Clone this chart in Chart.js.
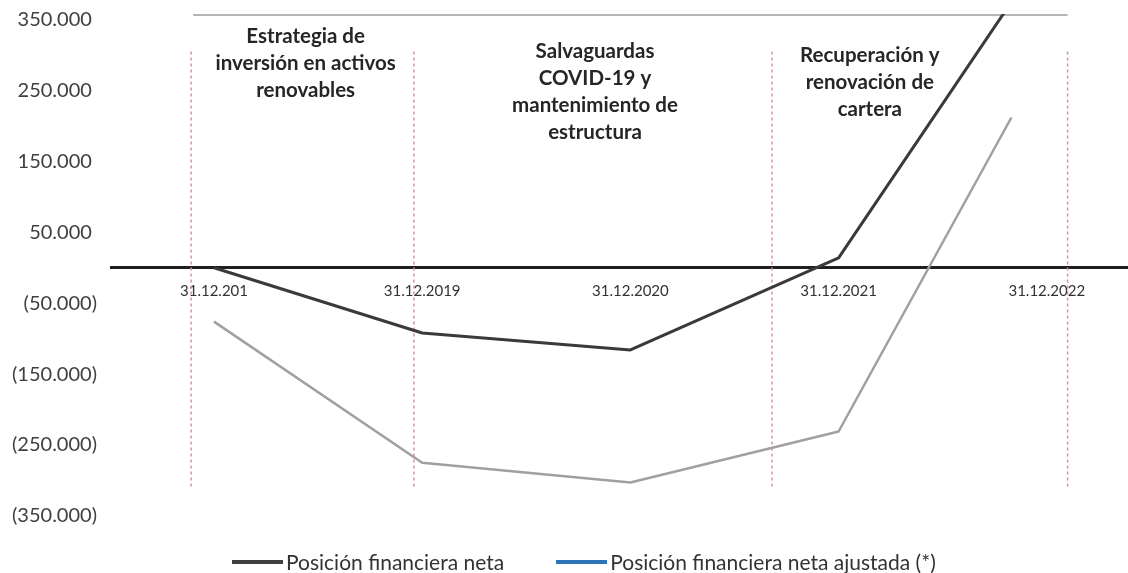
<!DOCTYPE html>
<html lang="es">
<head>
<meta charset="utf-8">
<script src="https://cdn.jsdelivr.net/npm/chart.js@4.4.1/dist/chart.umd.min.js"></script>
<style>
  html, body { margin: 0; padding: 0; background: #fff; }
  #contenedor { position: relative; width: 1128px; height: 573px; }
  #leyenda {
    position: absolute; left: 232px; top: 550px;
    display: flex; gap: 52px;
    font: 21px Lato, sans-serif; color: #333; line-height: 24px;
  }
  .item { display: flex; align-items: center; gap: 3px; }
  .muestra { width: 51px; height: 4px; }
</style>
</head>
<body>
<div id="contenedor">
  <canvas id="grafico"></canvas>
  <div id="leyenda">
    <div class="item"><span class="muestra" style="background:#3f3f3f"></span>Posición financiera neta</div>
    <div class="item"><span class="muestra" style="background:#2e75b6"></span>Posición financiera neta ajustada (*)</div>
  </div>
</div>
<script>
// Datos
const fechas = ['31.12.201', '31.12.2019', '31.12.2020', '31.12.2021', '31.12.2022'];
const posicionX = [0, 1, 2, 3, 3.83];
const posicionNeta = [0, -92000, -116000, 14000, 375000];
const posicionAjustada = [-76000, -275000, -303000, -231000, 212000];
const ticksY = [-350000, -250000, -150000, -50000, 50000, 150000, 250000, 350000];

// Etapas (texto de anotación)
const etapas = [
    ['Estrategia de', 'inversión en activos', 'renovables'],
    ['Salvaguardas', 'COVID-19 y', 'mantenimiento de', 'estructura'],
    ['Recuperación y', 'renovación de', 'cartera']
];
const etapasX = [0.44, 1.83, 3.15];
const etapasY = [326000, 305000, 300000];
const divisores = [-0.11, 0.96, 2.68, 4.1];

function formatoMiles(v) {
    const s = String(Math.abs(v)).replace(/\B(?=(\d{3})+(?!\d))/g, '.');
    return v < 0 ? '(' + s + ')' : s + ' ';
}

const decoracion = {
    id: 'decoracion',
    beforeDatasetsDraw(chart) {
        const { ctx, scales: { x, y } } = chart;
        ctx.save();
        // línea gris superior
        ctx.strokeStyle = '#b5b5b5';
        ctx.lineWidth = 2;
        ctx.beginPath();
        ctx.moveTo(x.getPixelForValue(-0.1), chart.chartArea.top + 1);
        ctx.lineTo(x.getPixelForValue(4.1), chart.chartArea.top + 1);
        ctx.stroke();
        // separadores punteados
        ctx.strokeStyle = '#d9939d';
        ctx.lineWidth = 1.5;
        ctx.setLineDash([3, 3]);
        divisores.forEach(d => {
            const px = x.getPixelForValue(d);
            ctx.beginPath();
            ctx.moveTo(px, y.getPixelForValue(305000));
            ctx.lineTo(px, y.getPixelForValue(-313000));
            ctx.stroke();
        });
        ctx.restore();
    },
    afterDraw(chart) {
        const { ctx, scales: { x, y } } = chart;
        ctx.save();
        ctx.font = 'bold 20.5px Lato, sans-serif';
        ctx.fillStyle = '#262626';
        ctx.textAlign = 'center';
        ctx.textBaseline = 'middle';
        etapas.forEach((lineas, i) => {
            const px = x.getPixelForValue(etapasX[i]);
            const py = y.getPixelForValue(etapasY[i]);
            lineas.forEach((t, j) => ctx.fillText(t, px, py + j * 27));
        });
        ctx.restore();
    }
};

function grafikOlustur() {
    const ctx = document.getElementById('grafico').getContext('2d');
    return new Chart(ctx, {
        type: 'line',
        data: {
            datasets: [
                {
                    label: 'Posición financiera neta',
                    data: posicionX.map((px, i) => ({ x: px, y: posicionNeta[i] })),
                    borderColor: '#3a3a3a',
                    borderWidth: 3,
                    pointRadius: 0,
                    borderJoinStyle: 'round',
                    fill: false
                },
                {
                    label: 'Posición financiera neta ajustada (*)',
                    data: posicionX.map((px, i) => ({ x: px, y: posicionAjustada[i] })),
                    borderColor: '#a0a0a0',
                    borderWidth: 2.5,
                    pointRadius: 0,
                    borderJoinStyle: 'round',
                    fill: false
                }
            ]
        },
        options: {
            responsive: true,
            maintainAspectRatio: false,
            animation: false,
            layout: { padding: { left: 10, top: 14, right: 0, bottom: 43 } },
            plugins: { legend: { display: false }, tooltip: { enabled: false } },
            scales: {
                x: {
                    type: 'linear',
                    position: { y: 0 },
                    min: -0.49,
                    max: 4.39,
                    afterBuildTicks: axis => { axis.ticks = fechas.map((_, i) => ({ value: i })); },
                    grid: { display: true, color: 'transparent', drawTicks: false },
                    border: { display: true, color: '#1f1f1f', width: 3 },
                    ticks: {
                        autoSkip: false,
                        maxRotation: 0,
                        padding: 14,
                        color: '#333',
                        font: { family: 'Lato', size: 15 },
                        callback: (v, i) => fechas[i]
                    }
                },
                y: {
                    min: -370000,
                    max: 358000,
                    afterBuildTicks: axis => { axis.ticks = ticksY.map(v => ({ value: v })); },
                    grid: { display: true, color: 'transparent', drawTicks: true, tickLength: 13 },
                    border: { display: false },
                    ticks: {
                        padding: 2,
                        color: '#404040',
                        font: { family: 'Lato', size: 20 },
                        callback: v => formatoMiles(v)
                    }
                }
            }
        },
        plugins: [decoracion]
    });
}

const grafico = grafikOlustur();
</script>
</body>
</html>
